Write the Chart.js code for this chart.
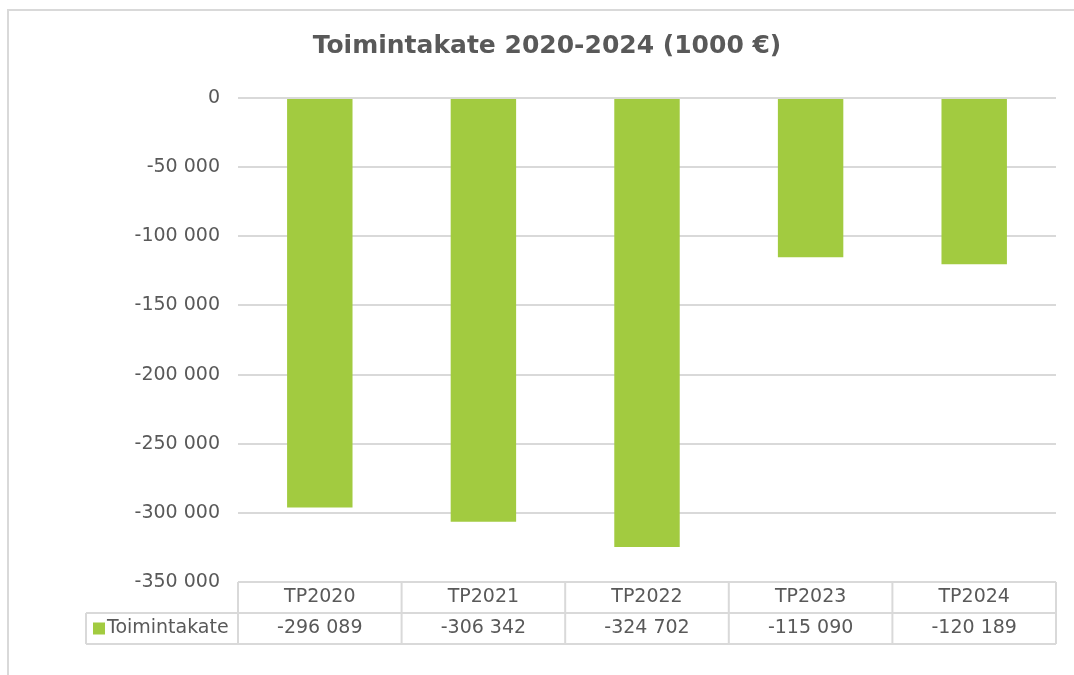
<!DOCTYPE html>
<html>
<head>
<meta charset="utf-8">
<script src="https://cdn.jsdelivr.net/npm/chart.js@4/dist/chart.umd.min.js"></script>
<style>
  body { margin: 0; background: #fff; overflow: hidden; }
</style>
</head>
<body>
<canvas id="chart" width="1074" height="675"></canvas>
<script>
// Data
const categories = ["TP2020", "TP2021", "TP2022", "TP2023", "TP2024"];
const seriesName = "Toimintakate";
const values = [-296089, -306342, -324702, -115090, -120189];
const chartTitle = "Toimintakate 2020-2024 (1000 €)";

const textColor = "#595959";
const gridColor = "#d9d9d9";
const barColor = "#a2cb40";
const font = "'DejaVu Sans', Verdana, sans-serif";

// Format number with space as thousands separator
function fmt(v) {
    const s = Math.abs(v).toString().replace(/\B(?=(\d{3})+(?!\d))/g, " ");
    return (v < 0 ? "-" : "") + s;
}

// Outer frame (left + top edge only, as in the screenshot)
const framePlugin = {
    id: "framePlugin",
    beforeDraw(chart) {
        const ctx = chart.ctx;
        ctx.save();
        ctx.strokeStyle = gridColor;
        ctx.lineWidth = 2;
        ctx.beginPath();
        ctx.moveTo(8, chart.height);
        ctx.lineTo(8, 10);
        ctx.lineTo(chart.width, 10);
        ctx.stroke();
        ctx.restore();
    }
};

// Title + data table under the plot
const tablePlugin = {
    id: "tablePlugin",
    afterDraw(chart) {
        const ctx = chart.ctx;
        const area = chart.chartArea;
        const n = categories.length;
        const colW = (area.right - area.left) / n;
        const rowH = 31;
        const top = area.bottom;
        const legendLeft = 86;

        ctx.save();
        // title
        ctx.fillStyle = textColor;
        ctx.font = "bold 25px " + font;
        ctx.textAlign = "center";
        ctx.textBaseline = "middle";
        ctx.fillText(chartTitle, 547, 46);

        // grid of table
        ctx.strokeStyle = gridColor;
        ctx.lineWidth = 2;
        ctx.beginPath();
        ctx.moveTo(area.left, top);
        ctx.lineTo(area.right, top);
        ctx.moveTo(legendLeft, top + rowH);
        ctx.lineTo(area.right, top + rowH);
        ctx.moveTo(legendLeft, top + rowH * 2);
        ctx.lineTo(area.right, top + rowH * 2);
        ctx.moveTo(legendLeft, top + rowH);
        ctx.lineTo(legendLeft, top + rowH * 2);
        for (let i = 0; i <= n; i++) {
            const x = area.left + i * colW;
            ctx.moveTo(x, top);
            ctx.lineTo(x, top + rowH * 2);
        }
        ctx.stroke();

        // texts
        ctx.font = "19px " + font;
        ctx.fillStyle = textColor;
        ctx.textAlign = "center";
        categories.forEach((c, i) => {
            const x = chart.scales.x.getPixelForValue(i);
            ctx.fillText(c, x, top + rowH / 2);
            ctx.fillText(fmt(values[i]), x, top + rowH * 1.5);
        });

        // legend key
        ctx.fillStyle = barColor;
        ctx.fillRect(93, top + rowH * 1.5 - 6, 12, 12);
        ctx.fillStyle = textColor;
        ctx.textAlign = "left";
        ctx.fillText(seriesName, 107, top + rowH * 1.5);
        ctx.restore();
    }
};

const ctx = document.getElementById("chart").getContext("2d");
new Chart(ctx, {
    type: "bar",
    data: {
        labels: categories,
        datasets: [{
            label: seriesName,
            data: values,
            backgroundColor: barColor,
            categoryPercentage: 1,
            barPercentage: 0.4
        }]
    },
    options: {
        responsive: false,
        animation: false,
        layout: { padding: { top: 98, right: 18, bottom: 93, left: 0 } },
        plugins: {
            legend: { display: false },
            tooltip: { enabled: false }
        },
        scales: {
            x: { display: false },
            y: {
                min: -350000,
                max: 0,
                afterFit(scale) { scale.width = 238; },
                ticks: {
                    stepSize: 50000,
                    padding: 18,
                    color: textColor,
                    font: { family: font, size: 19 },
                    callback: v => fmt(v)
                },
                grid: { color: gridColor, lineWidth: 2, drawTicks: false },
                border: { display: false }
            }
        }
    },
    plugins: [framePlugin, tablePlugin]
});
</script>
</body>
</html>
